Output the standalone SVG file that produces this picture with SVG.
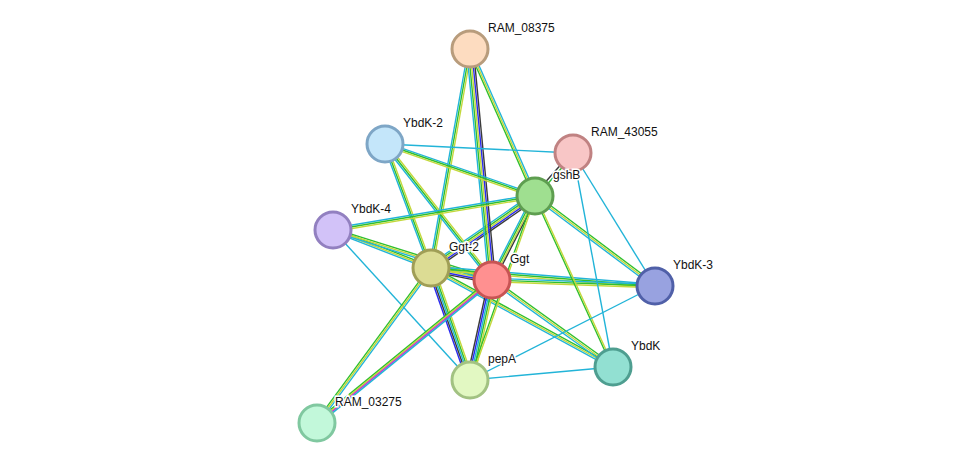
<svg xmlns="http://www.w3.org/2000/svg" width="976" height="469" viewBox="0 0 976 469">
<style>
line{stroke-width:1.4;fill:none}
.c{stroke:#22b4d8}.g{stroke:#2fbf2f}.y{stroke:#c4d83c}.b{stroke:#2a2af0}.k{stroke:#3a3a3a}.m{stroke:#d030d0}
circle{stroke-width:3}
text{font-family:"Liberation Sans",Arial,sans-serif;font-size:12px;fill:#111;stroke:#fff;stroke-width:3;paint-order:stroke}
</style>
<rect width="976" height="469" fill="#fff"/>
<g id="edges">
<!-- Ggt-2 - Ggt -->
<line class="c" x1="431" y1="264.6" x2="492" y2="276.6"/><line class="g" x1="431" y1="266.3" x2="492" y2="278.3"/><line class="y" x1="431" y1="268" x2="492" y2="280"/><line class="b" x1="431" y1="269.7" x2="492" y2="281.7"/><line class="k" x1="431" y1="271.4" x2="492" y2="283.4"/>
<!-- Ggt-2 - gshB -->
<line class="c" x1="428.6" y1="265.6" x2="532.6" y2="193.6"/><line class="g" x1="429.8" y1="266.8" x2="533.8" y2="194.8"/><line class="y" x1="431" y1="268" x2="535" y2="196"/><line class="b" x1="432.2" y1="269.2" x2="536.2" y2="197.2"/><line class="k" x1="433.4" y1="270.4" x2="537.4" y2="198.4"/>
<!-- Ggt - gshB -->
<line class="c" x1="489.4" y1="280" x2="532.4" y2="196"/><line class="g" x1="491.1" y1="280" x2="534.1" y2="196"/><line class="y" x1="492.9" y1="280" x2="535.9" y2="196"/><line class="k" x1="494.6" y1="280" x2="537.6" y2="196"/>
<!-- Ggt-2 - RAM_08375 -->
<line class="c" x1="429.3" y1="268" x2="468.3" y2="49"/><line class="g" x1="431" y1="268" x2="470" y2="49"/><line class="y" x1="432.7" y1="268" x2="471.7" y2="49"/>
<!-- Ggt - RAM_08375 -->
<line class="c" x1="488.6" y1="280" x2="466.6" y2="49"/><line class="g" x1="490.3" y1="280" x2="468.3" y2="49"/><line class="y" x1="492" y1="280" x2="470" y2="49"/><line class="b" x1="493.7" y1="280" x2="471.7" y2="49"/><line class="k" x1="495.4" y1="280" x2="473.4" y2="49"/>
<!-- gshB - RAM_08375 -->
<line class="g" x1="533.3" y1="196" x2="468.3" y2="49"/><line class="y" x1="535" y1="196" x2="470" y2="49"/><line class="c" x1="536.7" y1="196" x2="471.7" y2="49"/>
<!-- Ggt-2 - YbdK-2 -->
<line class="c" x1="429.3" y1="268" x2="383.3" y2="144"/><line class="g" x1="431" y1="268" x2="385" y2="144"/><line class="y" x1="432.7" y1="268" x2="386.7" y2="144"/>
<!-- Ggt - YbdK-2 -->
<line class="c" x1="490.8" y1="281.2" x2="383.8" y2="145.2"/><line class="g" x1="492" y1="280" x2="385" y2="144"/><line class="y" x1="493.2" y1="278.8" x2="386.2" y2="142.8"/>
<!-- gshB - YbdK-2 -->
<line class="c" x1="535" y1="194.3" x2="385" y2="142.3"/><line class="g" x1="535" y1="196" x2="385" y2="144"/><line class="y" x1="535" y1="197.7" x2="385" y2="145.7"/>
<!-- YbdK-2 - RAM_43055 -->
<line class="c" x1="385" y1="144" x2="573" y2="153"/>
<!-- gshB - RAM_43055 -->
<line class="k" x1="534" y1="195" x2="572" y2="152"/><line class="g" x1="536" y1="197" x2="574" y2="154"/>
<!-- YbdK-4 - gshB -->
<line class="c" x1="333" y1="228.3" x2="535" y2="194.3"/><line class="g" x1="333" y1="230" x2="535" y2="196"/><line class="y" x1="333" y1="231.7" x2="535" y2="197.7"/>
<!-- YbdK-4 - Ggt-2 -->
<line class="g" x1="333" y1="228.3" x2="431" y2="266.3"/><line class="y" x1="333" y1="230" x2="431" y2="268"/><line class="c" x1="333" y1="231.7" x2="431" y2="269.7"/>
<!-- YbdK-4 - Ggt -->
<line class="g" x1="333" y1="228.3" x2="492" y2="278.3"/><line class="y" x1="333" y1="230" x2="492" y2="280"/><line class="c" x1="333" y1="231.7" x2="492" y2="281.7"/>
<!-- YbdK-4 - pepA -->
<line class="c" x1="333" y1="230" x2="470" y2="380"/>
<!-- Ggt-2 - YbdK-3 -->
<line class="c" x1="431" y1="266.3" x2="655" y2="284.3"/><line class="g" x1="431" y1="268" x2="655" y2="286"/><line class="y" x1="431" y1="269.7" x2="655" y2="287.7"/>
<!-- Ggt - YbdK-3 -->
<line class="c" x1="492" y1="278.3" x2="655" y2="284.3"/><line class="g" x1="492" y1="280" x2="655" y2="286"/><line class="y" x1="492" y1="281.7" x2="655" y2="287.7"/>
<!-- gshB - YbdK-3 -->
<line class="g" x1="536.2" y1="194.8" x2="656.2" y2="284.8"/><line class="y" x1="535" y1="196" x2="655" y2="286"/><line class="c" x1="533.8" y1="197.2" x2="653.8" y2="287.2"/>
<!-- RAM_43055 - YbdK-3 / YbdK -->
<line class="c" x1="573" y1="153" x2="655" y2="286"/><line class="c" x1="573" y1="153" x2="613" y2="367"/>
<!-- Ggt-2 - YbdK -->
<line class="g" x1="432.2" y1="266.8" x2="614.2" y2="365.8"/><line class="y" x1="431" y1="268" x2="613" y2="367"/><line class="c" x1="429.8" y1="269.2" x2="611.8" y2="368.2"/>
<!-- Ggt - YbdK -->
<line class="g" x1="493.2" y1="278.8" x2="614.2" y2="365.8"/><line class="y" x1="492" y1="280" x2="613" y2="367"/><line class="c" x1="490.8" y1="281.2" x2="611.8" y2="368.2"/>
<!-- gshB - YbdK -->
<line class="g" x1="534.2" y1="196" x2="612.2" y2="367"/><line class="y" x1="535.8" y1="196" x2="613.8" y2="367"/>
<!-- pepA - YbdK / YbdK-3 -->
<line class="c" x1="470" y1="380" x2="613" y2="367"/><line class="c" x1="470" y1="380" x2="655" y2="286"/>
<!-- Ggt-2 - pepA -->
<line class="b" x1="427.6" y1="268" x2="466.6" y2="380"/><line class="k" x1="429.3" y1="268" x2="468.3" y2="380"/><line class="c" x1="431" y1="268" x2="470" y2="380"/><line class="g" x1="432.7" y1="268" x2="471.7" y2="380"/><line class="y" x1="434.4" y1="268" x2="473.4" y2="380"/>
<!-- Ggt - pepA -->
<line class="k" x1="488.6" y1="280" x2="466.6" y2="380"/><line class="b" x1="490.3" y1="280" x2="468.3" y2="380"/><line class="c" x1="492" y1="280" x2="470" y2="380"/><line class="g" x1="493.7" y1="280" x2="471.7" y2="380"/><line class="y" x1="495.4" y1="280" x2="473.4" y2="380"/>
<!-- gshB - pepA -->
<line class="g" x1="534.2" y1="196" x2="469.2" y2="380"/><line class="y" x1="535.8" y1="196" x2="470.8" y2="380"/>
<!-- Ggt-2 - RAM_03275 -->
<line class="g" x1="429.8" y1="266.8" x2="315.8" y2="421.8"/><line class="y" x1="431" y1="268" x2="317" y2="423"/><line class="c" x1="432.2" y1="269.2" x2="318.2" y2="424.2"/>
<!-- Ggt - RAM_03275 -->
<line class="g" x1="490.8" y1="278.6" x2="315.8" y2="421.6"/><line class="y" x1="491.6" y1="279.6" x2="316.6" y2="422.6"/><line class="m" x1="492.4" y1="280.6" x2="317.4" y2="423.6"/><line class="c" x1="493.2" y1="281.6" x2="318.2" y2="424.6"/>
</g>
<g id="RAM_08375"><circle cx="470" cy="49" r="18" fill="#fddcc0" stroke="#b89c7c"/><text x="488" y="32">RAM_08375</text></g>
<g id="YbdK-2"><circle cx="385" cy="144" r="18" fill="#c4e6fa" stroke="#7ea6c6"/><text x="403" y="127">YbdK-2</text></g>
<g id="RAM_43055"><circle cx="573" cy="153" r="18" fill="#f8c6c6" stroke="#c08282"/><text x="591" y="136">RAM_43055</text></g>
<g id="gshB"><circle cx="535" cy="196" r="18" fill="#9fdf90" stroke="#5e9e50"/><text x="553" y="179">gshB</text></g>
<g id="YbdK-4"><circle cx="333" cy="230" r="18" fill="#d2c2f8" stroke="#9280c0"/><text x="351" y="213">YbdK-4</text></g>
<g id="Ggt-2"><circle cx="431" cy="268" r="18" fill="#dcdc94" stroke="#a09e56"/><text x="449" y="251">Ggt-2</text></g>
<g id="Ggt"><circle cx="492" cy="280" r="18" fill="#ff9090" stroke="#c85454"/><text x="510" y="263">Ggt</text></g>
<g id="YbdK-3"><circle cx="655" cy="286" r="18" fill="#98a2e0" stroke="#5060a8"/><text x="673" y="269">YbdK-3</text></g>
<g id="YbdK"><circle cx="613" cy="367" r="18" fill="#92e0d2" stroke="#4e9e90"/><text x="631" y="350">YbdK</text></g>
<g id="pepA"><circle cx="470" cy="380" r="18" fill="#e2f8c2" stroke="#a2c282"/><text x="488" y="363">pepA</text></g>
<g id="RAM_03275"><circle cx="317" cy="423" r="18" fill="#c2f8da" stroke="#80c8a0"/><text x="335" y="406">RAM_03275</text></g>
</svg>
